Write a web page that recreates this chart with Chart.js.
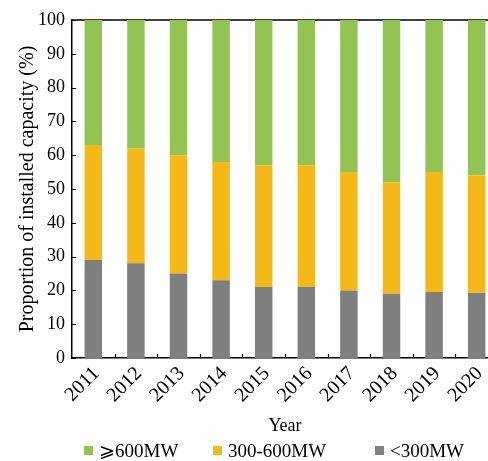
<!DOCTYPE html>
<html>
<head>
<meta charset="utf-8">
<script src="https://cdn.jsdelivr.net/npm/chart.js@4/dist/chart.umd.min.js"></script>
<style>
  html, body { margin: 0; padding: 0; background: #fff; overflow: hidden; }
  #wrap { width: 540px; height: 461px; }
</style>
</head>
<body>
<div id="wrap"><canvas id="c" width="540" height="461"></canvas></div>
<script>
// Share of installed capacity by unit size, 2011-2020 (%)
const years = ['2011', '2012', '2013', '2014', '2015', '2016', '2017', '2018', '2019', '2020'];
const below300 = [29, 28, 25, 23, 21, 21, 20, 19, 19.5, 19.3];
const mid300to600 = [34, 34, 35, 35, 36, 36, 35, 33, 35.5, 34.7];
const above600 = [37, 38, 40, 42, 43, 43, 45, 48, 45, 46];
const yTicks = [0, 10, 20, 30, 40, 50, 60, 70, 80, 90, 100];

const FONT = '"Liberation Serif", "Times New Roman", "DejaVu Serif", serif';

// Box frame: top rule plus inward tick marks on both axes
const framePlugin = {
  id: 'frame',
  beforeDatasetsDraw(chart) {
    const { ctx, chartArea: a, scales: { x, y } } = chart;
    ctx.save();
    ctx.strokeStyle = '#000';
    ctx.lineWidth = 1.5;
    ctx.beginPath();
    ctx.moveTo(a.left, a.top);
    ctx.lineTo(a.right, a.top);
    ctx.stroke();
    ctx.lineWidth = 1.2;
    ctx.beginPath();
    yTicks.forEach(v => {
      const py = Math.round(y.getPixelForValue(v)) + 0.5;
      ctx.moveTo(a.left, py);
      ctx.lineTo(a.left + 4, py);
    });
    for (let i = 0; i < years.length - 1; i++) {
      const px = Math.round((x.getPixelForValue(i) + x.getPixelForValue(i + 1)) / 2) + 0.5;
      ctx.moveTo(px, a.bottom);
      ctx.lineTo(px, a.bottom - 4);
    }
    ctx.stroke();
    ctx.restore();
  }
};

// Legend row under the axis title
const legendPlugin = {
  id: 'rowLegend',
  afterDraw(chart) {
    const { ctx, chartArea: a } = chart;
    const items = chart.data.datasets.slice().reverse();
    const offsets = [12, 141, 303];
    const cy = 451;
    ctx.save();
    ctx.font = '19px ' + FONT;
    ctx.textBaseline = 'middle';
    ctx.textAlign = 'left';
    items.forEach((ds, i) => {
      const bx = a.left + offsets[i];
      ctx.fillStyle = ds.backgroundColor;
      ctx.fillRect(bx, cy - 5, 9, 9);
      ctx.fillStyle = '#000';
      ctx.fillText(ds.label, bx + 15, cy + 1);
    });
    ctx.restore();
  }
};

new Chart(document.getElementById('c'), {
  type: 'bar',
  data: {
    labels: years,
    datasets: [
      { label: '<300MW', data: below300, backgroundColor: '#7F7F7F' },
      { label: '300-600MW', data: mid300to600, backgroundColor: '#F4B918' },
      { label: '\u2A7E600MW', data: above600, backgroundColor: '#92C353' }
    ]
  },
  options: {
    responsive: false,
    animation: false,
    devicePixelRatio: 1,
    layout: { padding: { left: 12, right: 42, top: 20, bottom: 20 } },
    datasets: { bar: { categoryPercentage: 1, barPercentage: 0.41, borderWidth: 0 } },
    plugins: { legend: { display: false }, tooltip: { enabled: false } },
    scales: {
      x: {
        stacked: true,
        grid: { display: false, drawTicks: false },
        border: { color: '#000', width: 1.5 },
        ticks: { color: '#000', font: { family: FONT, size: 20 }, minRotation: 45, maxRotation: 45, padding: 4, labelOffset: 3 },
        title: { display: true, text: 'Year', color: '#000', font: { family: FONT, size: 18 }, padding: 4 },
        afterFit(scale) { scale.height = 83; }
      },
      y: {
        stacked: true,
        min: 0,
        max: 100,
        grid: { display: false, drawTicks: false },
        border: { color: '#000', width: 1.5 },
        ticks: { stepSize: 10, color: '#000', font: { family: FONT, size: 18 }, padding: 7 },
        title: { display: true, text: 'Proportion of installed capacity (%)', color: '#000', font: { family: FONT, size: 20 }, padding: 4 },
        afterFit(scale) { scale.width = 60; }
      }
    }
  },
  plugins: [framePlugin, legendPlugin]
});
</script>
</body>
</html>
